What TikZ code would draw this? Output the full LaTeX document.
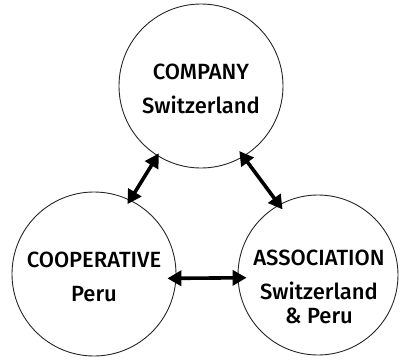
\documentclass[tikz,border=0pt]{standalone}
\usepackage{fontspec}
\setmainfont{Fira Sans}[UprightFont={* Medium}]
\usetikzlibrary{arrows.meta}
\begin{document}
\begin{tikzpicture}[x=1pt,y=-1pt,
  party/.style={circle,draw=black!85,line width=0.9pt,inner sep=0pt},
  caption/.style={align=center,inner sep=0pt,font=\fontsize{22}{24}\selectfont},
  link/.style={line width=3.6pt,
    {Triangle[length=14pt,width=15pt]}-{Triangle[length=14pt,width=15pt]}}]
\useasboundingbox (0,0) rectangle (400,360);
% the three parties
\node[party,minimum size=164pt] (company) at (201,86) {};
\node[party,minimum size=164pt] (coop) at (94,274) {};
\node[party,minimum size=160pt] (assoc) at (318,275) {};
\node[caption] (company-text) at (201,89) {COMPANY\\[10pt]Switzerland};
\node[caption] (coop-text) at (94,277) {COOPERATIVE\\[10pt]Peru};
\node[caption] (assoc-text) at (319,287) {ASSOCIATION\\[10pt]Switzerland\\\& Peru};
% two-way links between them
\draw[link,shorten <=-3pt,shorten >=-5pt] (company.238) -- (coop.64);
\draw[link,shorten <=-7pt,shorten >=-6pt] (company.301) -- (assoc.119);
\draw[link,shorten <=-9pt,shorten >=-9pt] (coop.-3) -- (assoc.182);
\end{tikzpicture}
\end{document}
